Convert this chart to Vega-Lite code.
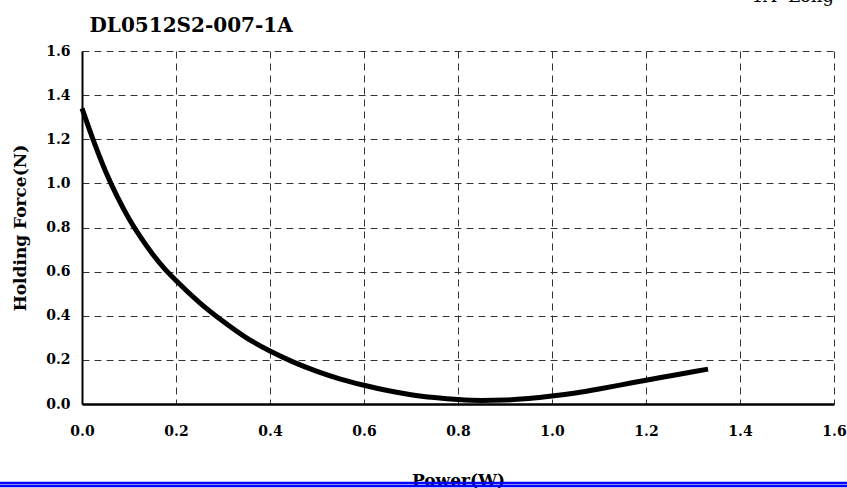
{
  "$schema": "https://vega.github.io/schema/vega-lite/v6.json",
  "width": 752,
  "height": 353,
  "autosize": "none",
  "padding": {"left": 82, "top": 51, "right": 13, "bottom": 84},
  "background": "white",
  "config": {
    "view": {"stroke": null},
    "axis": {
      "labelFont": "DejaVu Serif",
      "labelFontWeight": "bold",
      "labelFontSize": 14,
      "labelColor": "black",
      "titleFont": "DejaVu Serif",
      "titleFontWeight": "bold",
      "titleFontSize": 17,
      "titleColor": "black",
      "ticks": false,
      "domainColor": "black",
      "grid": true,
      "gridDash": [7, 5],
      "gridColor": "#333333",
      "gridWidth": 1,
      "gridOpacity": 1,
      "labelFlush": false
    }
  },
  "layer": [
    {
      "data": {
        "values": [
          {"power": 0.0, "force": 1.34},
          {"power": 0.025, "force": 1.19},
          {"power": 0.05, "force": 1.055},
          {"power": 0.075, "force": 0.94},
          {"power": 0.1, "force": 0.84},
          {"power": 0.125, "force": 0.755},
          {"power": 0.15, "force": 0.68},
          {"power": 0.175, "force": 0.615},
          {"power": 0.2, "force": 0.56},
          {"power": 0.25, "force": 0.46},
          {"power": 0.3, "force": 0.375},
          {"power": 0.35, "force": 0.3},
          {"power": 0.4, "force": 0.24},
          {"power": 0.45, "force": 0.19},
          {"power": 0.5, "force": 0.148},
          {"power": 0.55, "force": 0.113},
          {"power": 0.6, "force": 0.085},
          {"power": 0.65, "force": 0.061},
          {"power": 0.7, "force": 0.042},
          {"power": 0.75, "force": 0.029},
          {"power": 0.8, "force": 0.02},
          {"power": 0.85, "force": 0.016},
          {"power": 0.9, "force": 0.018},
          {"power": 0.95, "force": 0.025},
          {"power": 1.0, "force": 0.036},
          {"power": 1.05, "force": 0.05},
          {"power": 1.1, "force": 0.068},
          {"power": 1.15, "force": 0.088},
          {"power": 1.2, "force": 0.108},
          {"power": 1.25, "force": 0.127},
          {"power": 1.3, "force": 0.146},
          {"power": 1.332, "force": 0.158}
        ]
      },
      "mark": {"type": "line", "color": "black", "strokeWidth": 5, "interpolate": "monotone", "strokeCap": "butt"},
      "encoding": {
        "x": {
          "field": "power",
          "type": "quantitative",
          "scale": {"domain": [0, 1.6], "nice": false, "zero": false},
          "axis": {
            "values": [0, 0.2, 0.4, 0.6, 0.8, 1.0, 1.2, 1.4, 1.6],
            "format": ".1f",
            "labelPadding": 20,
            "domainWidth": 2.5,
            "title": "Power(W)",
            "titlePadding": 34
          }
        },
        "y": {
          "field": "force",
          "type": "quantitative",
          "scale": {"domain": [0, 1.6], "nice": false, "zero": false},
          "axis": {
            "values": [0, 0.2, 0.4, 0.6, 0.8, 1.0, 1.2, 1.4, 1.6],
            "format": ".1f",
            "labelPadding": 12,
            "domainWidth": 2,
            "title": "Holding Force(N)",
            "titlePadding": 16
          }
        }
      }
    },
    {
      "data": {"values": [{}]},
      "mark": {"type": "rule", "color": "#0000ff", "strokeWidth": 2.5},
      "encoding": {
        "x": {"datum": -0.2},
        "x2": {"datum": 1.7},
        "y": {"datum": -0.358}
      }
    },
    {
      "data": {"values": [{}]},
      "mark": {"type": "rule", "color": "#0000ff", "strokeWidth": 2.5},
      "encoding": {
        "x": {"datum": -0.2},
        "x2": {"datum": 1.7},
        "y": {"datum": -0.372}
      }
    },
    {
      "data": {"values": [{"label": "DL0512S2-007-1A"}]},
      "mark": {"type": "text", "font": "DejaVu Serif", "fontWeight": "bold", "fontSize": 20, "color": "black", "align": "left", "baseline": "alphabetic"},
      "encoding": {
        "text": {"field": "label"},
        "x": {"datum": 0.016},
        "y": {"datum": 1.686}
      }
    },
    {
      "data": {"values": [{"label": "1A- Long"}]},
      "mark": {"type": "text", "font": "DejaVu Serif", "fontSize": 18, "color": "black", "align": "left", "baseline": "alphabetic"},
      "encoding": {
        "text": {"field": "label"},
        "x": {"datum": 1.425},
        "y": {"datum": 1.822}
      }
    }
  ]
}
